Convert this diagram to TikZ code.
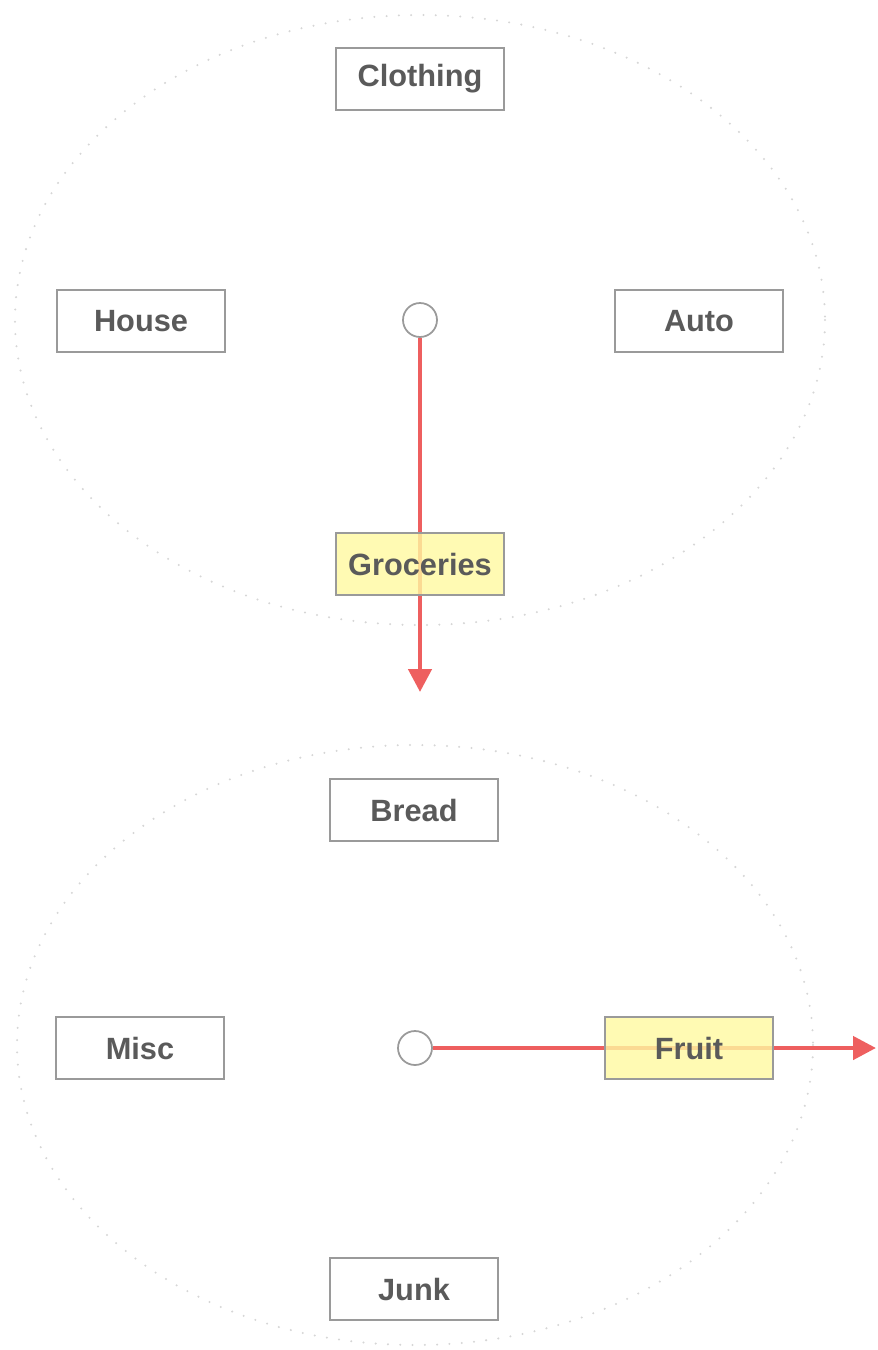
\documentclass[tikz,border=0pt]{standalone}
\usepackage{fontspec}
\setmainfont{Liberation Sans}
\usetikzlibrary{arrows.meta, positioning}
\definecolor{boxgray}{HTML}{9A9A9A}
\definecolor{txtgray}{HTML}{5A5A5A}
\definecolor{ringgray}{HTML}{D6D6D6}
\definecolor{pickyellow}{HTML}{FFF9A0}
\definecolor{arrowred}{HTML}{EE5F5F}

\begin{document}
\begin{tikzpicture}[x=0.02cm, y=-0.02cm,
  >={Triangle[length=0.46cm, width=0.46cm]},
  item/.style={draw=boxgray, line width=1.3pt, fill=white, text=txtgray,
    font=\fontsize{17.5}{20}\selectfont\bfseries,
    minimum width=3.36cm, minimum height=1.24cm, inner sep=0pt},
  picked/.style={item, fill=pickyellow, fill opacity=0.8, text opacity=1},
  hub/.style={circle, draw=boxgray, line width=1pt, fill=white,
    minimum size=0.68cm, inner sep=0pt},
  ring/.style={ringgray, line width=1.3pt, line cap=round,
    dash pattern=on 0pt off 7pt},
  pointer/.style={->, arrowred, line width=2.6pt}]

% Page
\useasboundingbox (0,0) rectangle (878,1350);

% --- Upper menu ---
\draw[ring] (420,320) ellipse (405 and 305);
\node[hub] (hubA) at (420,320) {};
\coordinate (endA) at (420,692);
\draw[pointer] (hubA) -- (endA);

\node[item] (clothing) at (420,79) {Clothing};
\node[item] (house) at (141,321) {House};
\node[item] (auto) at (699,321) {Auto};
\node[picked] (groceries) at (420,564) {Groceries};

% --- Lower menu ---
\draw[ring] (415,1045) ellipse (398 and 300);
\node[hub] (hubB) at (415,1048) {};
\coordinate (endB) at (876,1048);
\draw[pointer] (hubB) -- (endB);

\node[item] (bread) at (414,810) {Bread};
\node[item] (misc) at (140,1048) {Misc};
\node[picked] (fruit) at (689,1048) {Fruit};
\node[item] (junk) at (414,1289) {Junk};

\end{tikzpicture}
\end{document}
